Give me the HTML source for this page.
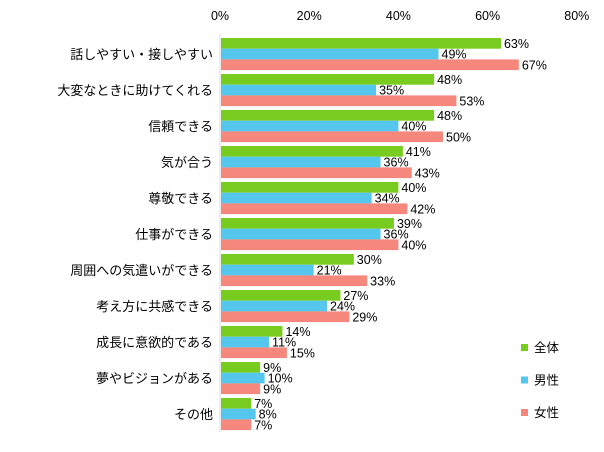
<!DOCTYPE html>
<html><head><meta charset="utf-8"><style>
body{margin:0;background:#fff}
svg text{font-family:"Liberation Sans","Noto Sans CJK JP",sans-serif;font-size:12.5px;fill:#000}
svg text.cat{font-size:13px}
</style></head><body>
<svg id="c" width="604" height="447"></svg>
<script>
const categories=["話しやすい・接しやすい","大変なときに助けてくれる","信頼できる","気が合う","尊敬できる","仕事ができる","周囲への気遣いができる","考え方に共感できる","成長に意欲的である","夢やビジョンがある","その他"];
const total=[63,48,48,41,40,39,30,27,14,9,7];
const male=[49,35,40,36,34,36,21,24,11,10,8];
const female=[67,53,50,43,42,40,33,29,15,9,7];
const ticks=[0,20,40,60,80];
const seriesNames=["全体","男性","女性"];
const colors=["#77cc1f","#55c6ee","#f6877c"];
const svg=document.getElementById('c');const NS="http://www.w3.org/2000/svg";
const x0=220,sc=4.46,top0=38,pitch=36,bh=10.7;
const X=v=>x0+v*sc;
function mk(t,a,txt){const e=document.createElementNS(NS,t);for(const k in a)e.setAttribute(k,a[k]);if(txt!=null)e.textContent=txt;svg.appendChild(e);return e;}
ticks.forEach(t=>{const e=mk('text',{x:X(t),y:20,'text-anchor':'middle'},t+'%');

});
const ax=mk('line',{x1:x0,y1:34,x2:x0,y2:432,stroke:'#d9d9d9','stroke-width':1});


const series=[total,male,female];
categories.forEach((c,i)=>{
 const gy=top0+i*pitch;
 const l=mk('text',{x:213,y:gy+21,'text-anchor':'end','class':'cat'},c);
 
 
 series.forEach((s,j)=>{
  const y=gy+j*bh;
  const r=mk('rect',{x:x0+1,y:y,width:X(s[i])-x0-1,height:bh,fill:colors[j]});
  
  
  const t=mk('text',{x:X(s[i])+3,y:y+10},s[i]+'%');
  
  
 });
});
seriesNames.forEach((n,j)=>{
 const y=344+j*32.5;
 const r=mk('rect',{x:521,y:y,width:7,height:7,fill:colors[j]});
 
 
 const t=mk('text',{x:534,y:y+8},n);
 
 
});
</script></body></html>
